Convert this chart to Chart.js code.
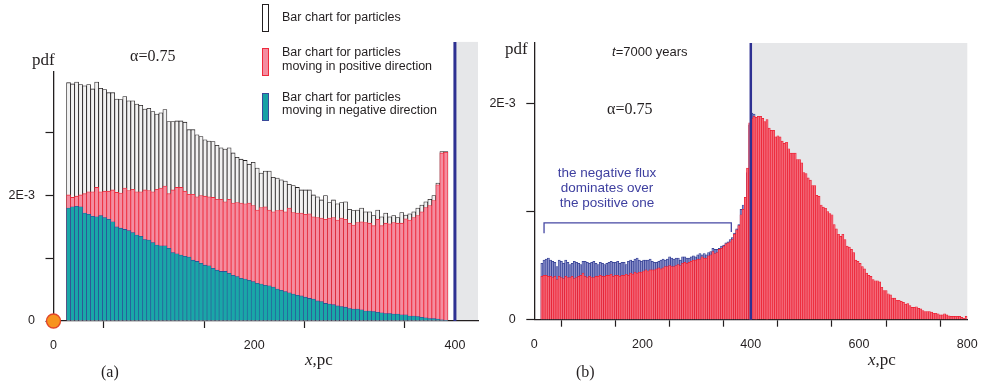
<!DOCTYPE html>
<html>
<head>
<meta charset="utf-8">
<title>pdf of particles, alpha = 0.75</title>
<script src="https://cdn.jsdelivr.net/npm/chart.js@4.4.1/dist/chart.umd.min.js"></script>
<style>
  html, body { margin: 0; padding: 0; background: #fff; }
  #page { position: relative; width: 981px; height: 389px; overflow: hidden; }
  canvas { position: absolute; top: 0; }
  .t { position: absolute; white-space: nowrap; line-height: 1; color: #231f20; }
  .serif { font-family: 'Liberation Serif', 'Times New Roman', serif; }
  .sans { font-family: 'Liberation Sans', Arial, sans-serif; }
  .key { position: absolute; left: 262px; width: 7px; height: 28px; box-sizing: border-box; border: 1.3px solid; }
</style>
</head>
<body>
<div id="page">
  <canvas id="chartA" width="490" height="389" style="left:0"></canvas>
  <canvas id="chartB" width="491" height="389" style="left:490px"></canvas>

  <!-- panel (a) texts -->
  <div class="t serif" style="left:32px;top:50.8px;font-size:17px">pdf</div>
  <div class="t serif" style="left:130px;top:48.3px;font-size:16px">&alpha;=0.75</div>
  <div class="key" style="top:4px;border-color:#231f20;background:#fff"></div>
  <div class="t sans" style="left:282px;top:11.4px;font-size:12.5px">Bar chart for particles</div>
  <div class="key" style="top:48px;border-color:#ee2a3c;background:#f48da0"></div>
  <div class="t sans" style="left:282px;top:46.3px;font-size:12.5px;line-height:13.4px">Bar chart for particles<br>moving in positive direction</div>
  <div class="key" style="top:93px;border-color:#3a4a9a;background:#17a2a6"></div>
  <div class="t sans" style="left:282px;top:90.7px;font-size:12.5px;line-height:13.4px">Bar chart for particles<br>moving in negative direction</div>
  <div class="t serif" style="left:305px;top:350.8px;font-size:17px"><i>x</i>,pc</div>
  <div class="t serif" style="left:101px;top:363.6px;font-size:16px">(a)</div>

  <!-- panel (b) texts -->
  <div class="t serif" style="left:505px;top:39.8px;font-size:17px">pdf</div>
  <div class="t sans" style="left:612px;top:45px;font-size:13px"><i>t</i>=7000 years</div>
  <div class="t serif" style="left:607px;top:100.6px;font-size:16px">&alpha;=0.75</div>
  <div class="t sans" style="left:507px;top:165.1px;width:200px;text-align:center;font-size:13.5px;line-height:15px;color:#3f40a0">the negative flux<br>dominates over<br>the positive one</div>
  <div class="t serif" style="left:868px;top:350.8px;font-size:17px"><i>x</i>,pc</div>
  <div class="t serif" style="left:576px;top:363.6px;font-size:16px">(b)</div>
</div>

<script>
// ---- panel (a): alpha = 0.75, source at x = 0, boundary at 400 pc ----
// bin centres, pc (4 pc bins)
const binsA = [15, 19, 23, 27, 31, 35, 39, 43, 47, 51, 55, 59, 63, 67, 71, 75, 79, 83, 87, 91,
  95, 99, 103, 107, 111, 115, 119, 123, 127, 131, 135, 139, 143, 147, 151, 155, 159, 163, 167, 171,
  175, 179, 183, 187, 191, 195, 199, 203, 207, 211, 215, 219, 223, 227, 231, 235, 239, 243, 247, 251,
  255, 259, 263, 267, 271, 275, 279, 283, 287, 291, 295, 299, 303, 307, 311, 315, 319, 323, 327, 331,
  335, 339, 343, 347, 351, 355, 359, 363, 367, 371, 375, 379, 383, 387, 391];
// pdf in units of 1E-3
const totalA = [3.80, 3.78, 3.81, 3.77, 3.75, 3.77, 3.70, 3.81, 3.71, 3.69,
  3.64, 3.64, 3.54, 3.53, 3.58, 3.51, 3.51, 3.46, 3.44, 3.38,
  3.39, 3.34, 3.30, 3.32, 3.37, 3.18, 3.18, 3.19, 3.19, 3.17,
  3.05, 3.05, 2.97, 2.94, 2.89, 2.87, 2.86, 2.80, 2.76, 2.74,
  2.76, 2.68, 2.61, 2.58, 2.56, 2.50, 2.53, 2.44, 2.36, 2.39,
  2.39, 2.29, 2.28, 2.25, 2.23, 2.18, 2.16, 2.13, 2.09, 2.09,
  2.09, 2.01, 1.98, 1.93, 2.00, 1.89, 1.93, 1.87, 1.89, 1.90,
  1.78, 1.76, 1.77, 1.80, 1.74, 1.74, 1.68, 1.77, 1.66, 1.72,
  1.66, 1.68, 1.65, 1.73, 1.69, 1.71, 1.74, 1.80, 1.85, 1.90,
  1.94, 2.00, 2.20, 2.70, 2.70];
const positiveA = [2.01, 1.97, 1.99, 2.01, 2.03, 2.06, 2.06, 2.13, 2.06, 2.07,
  2.07, 2.09, 2.05, 2.04, 2.12, 2.08, 2.10, 2.06, 2.06, 2.09,
  2.08, 2.06, 2.10, 2.12, 2.15, 2.03, 2.09, 2.13, 2.13, 2.07,
  2.02, 2.02, 1.98, 2.00, 1.99, 1.98, 1.97, 1.94, 1.94, 1.90,
  1.94, 1.88, 1.89, 1.88, 1.87, 1.88, 1.84, 1.77, 1.81, 1.82,
  1.77, 1.74, 1.76, 1.77, 1.74, 1.80, 1.73, 1.72, 1.72, 1.70,
  1.71, 1.66, 1.65, 1.64, 1.62, 1.64, 1.65, 1.61, 1.64, 1.62,
  1.56, 1.53, 1.57, 1.58, 1.57, 1.56, 1.52, 1.62, 1.52, 1.56,
  1.55, 1.57, 1.56, 1.56, 1.63, 1.61, 1.65, 1.68, 1.74, 1.81,
  1.84, 1.92, 2.17, 2.68, 2.69];
const negativeA = [1.80, 1.82, 1.83, 1.82, 1.72, 1.70, 1.67, 1.66, 1.68, 1.65,
  1.62, 1.58, 1.50, 1.48, 1.46, 1.44, 1.41, 1.37, 1.35, 1.30,
  1.29, 1.25, 1.21, 1.20, 1.20, 1.16, 1.09, 1.07, 1.05, 1.03,
  1.02, 0.97, 0.95, 0.92, 0.89, 0.88, 0.84, 0.81, 0.79, 0.79,
  0.76, 0.73, 0.71, 0.68, 0.67, 0.65, 0.63, 0.60, 0.59, 0.57,
  0.56, 0.54, 0.51, 0.49, 0.47, 0.45, 0.43, 0.41, 0.40, 0.38,
  0.36, 0.35, 0.32, 0.31, 0.28, 0.27, 0.26, 0.24, 0.23, 0.22,
  0.20, 0.19, 0.19, 0.18, 0.16, 0.16, 0.15, 0.14, 0.13, 0.12,
  0.12, 0.11, 0.11, 0.10, 0.10, 0.08, 0.08, 0.07, 0.06, 0.05,
  0.04, 0.04, 0.03, 0.02, 0.01];
const sourceA = [{ x: 0, y: 0 }];
const xTicksA = [0, 100, 200, 300, 400];
const xLabelsA = ['0', '', '200', '', '400'];
const yTicksA = [0, 1, 2, 3];
const yLabelsA = ['0', '', '2E-3', ''];

// ---- panel (b): t = 7000 years ----
const binsB = [14, 18, 22, 26, 30, 34, 38, 42, 46, 50,
  54, 58, 62, 66, 70, 74, 78, 82, 86, 90,
  94, 98, 102, 106, 110, 114, 118, 122, 126, 130,
  134, 138, 142, 146, 150, 154, 158, 162, 166, 170,
  174, 178, 182, 186, 190, 194, 198, 202, 206, 210,
  214, 218, 222, 226, 230, 234, 238, 242, 246, 250,
  254, 258, 262, 266, 270, 274, 278, 282, 286, 290,
  294, 298, 302, 306, 310, 314, 318, 322, 326, 330,
  334, 338, 342, 346, 350, 354, 358, 362, 366, 370,
  374, 378, 382, 386, 390, 394, 398, 402, 406, 410,
  414, 418, 422, 426, 430, 434, 438, 442, 446, 450,
  454, 458, 462, 466, 470, 474, 478, 482, 486, 490,
  494, 498, 502, 506, 510, 514, 518, 522, 526, 530,
  534, 538, 542, 546, 550, 554, 558, 562, 566, 570,
  574, 578, 582, 586, 590, 594, 598, 602, 606, 610,
  614, 618, 622, 626, 630, 634, 638, 642, 646, 650,
  654, 658, 662, 666, 670, 674, 678, 682, 686, 690,
  694, 698, 702, 706, 710, 714, 718, 722, 726, 730,
  734, 738, 742, 746, 750, 754, 758, 762, 766, 770,
  774, 778, 782, 786, 790, 794, 798];
const positiveB = [0.40, 0.41, 0.41, 0.40, 0.40, 0.39, 0.40, 0.37, 0.40, 0.39,
  0.38, 0.40, 0.39, 0.39, 0.40, 0.38, 0.39, 0.40, 0.41, 0.43,
  0.40, 0.39, 0.40, 0.39, 0.39, 0.40, 0.40, 0.41, 0.40, 0.40,
  0.41, 0.41, 0.42, 0.40, 0.41, 0.41, 0.40, 0.41, 0.41, 0.42,
  0.41, 0.43, 0.42, 0.44, 0.43, 0.44, 0.44, 0.45, 0.46, 0.45,
  0.46, 0.46, 0.46, 0.47, 0.48, 0.47, 0.48, 0.49, 0.49, 0.50,
  0.49, 0.49, 0.50, 0.51, 0.50, 0.52, 0.53, 0.52, 0.53, 0.54,
  0.55, 0.55, 0.56, 0.56, 0.58, 0.57, 0.57, 0.59, 0.60, 0.63,
  0.61, 0.62, 0.65, 0.66, 0.68, 0.70, 0.71, 0.72, 0.74, 0.79,
  0.83, 0.87, 0.97, 1.02, 1.13, 1.40, 1.82, 1.86, 1.88, 1.87,
  1.88, 1.88, 1.86, 1.83, 1.85, 1.77, 1.75, 1.75, 1.69, 1.70,
  1.69, 1.65, 1.63, 1.64, 1.58, 1.54, 1.54, 1.54, 1.48, 1.48,
  1.45, 1.36, 1.35, 1.31, 1.29, 1.24, 1.24, 1.15, 1.14, 1.06,
  1.04, 1.03, 1.00, 0.98, 0.97, 0.88, 0.84, 0.79, 0.77, 0.79,
  0.74, 0.68, 0.67, 0.65, 0.62, 0.55, 0.54, 0.52, 0.49, 0.47,
  0.43, 0.41, 0.40, 0.37, 0.36, 0.36, 0.35, 0.30, 0.27, 0.27,
  0.24, 0.23, 0.20, 0.20, 0.18, 0.18, 0.17, 0.16, 0.145, 0.15,
  0.13, 0.115, 0.115, 0.12, 0.105, 0.10, 0.085, 0.075, 0.075, 0.075,
  0.07, 0.06, 0.06, 0.055, 0.045, 0.045, 0.055, 0.045, 0.035, 0.03,
  0.03, 0.03, 0.03, 0.03, 0.022, 0.013, 0.03];
// negative flux; beyond ~410 pc it stays under the positive bars
const negativeB = [0.52, 0.55, 0.56, 0.57, 0.55, 0.54, 0.53, 0.49, 0.55, 0.54,
  0.52, 0.55, 0.53, 0.51, 0.52, 0.54, 0.53, 0.52, 0.51, 0.54,
  0.54, 0.53, 0.52, 0.53, 0.54, 0.52, 0.51, 0.53, 0.52, 0.51,
  0.52, 0.53, 0.54, 0.53, 0.53, 0.54, 0.52, 0.53, 0.53, 0.51,
  0.54, 0.55, 0.54, 0.56, 0.57, 0.55, 0.54, 0.55, 0.55, 0.55,
  0.56, 0.54, 0.53, 0.53, 0.54, 0.55, 0.56, 0.55, 0.56, 0.58,
  0.57, 0.56, 0.57, 0.57, 0.55, 0.58, 0.58, 0.57, 0.57, 0.58,
  0.59, 0.58, 0.60, 0.61, 0.60, 0.61, 0.60, 0.62, 0.63, 0.66,
  0.65, 0.65, 0.66, 0.68, 0.69, 0.71, 0.72, 0.74, 0.76, 0.80,
  0.84, 0.88, 1.02, 1.06, 1.12, 1.36, 1.80, 1.91, 1.90];
const xTicksB = [0, 100, 200, 300, 400, 500, 600, 700, 800];
const xLabelsB = ['0', '', '200', '', '400', '', '600', '', '800'];
const yTicksB = [0, 1, 2];
const yLabelsB = ['0', '', '2E-3'];

const ink = '#231f20';
const tickFont = { family: "'Liberation Sans', Arial, sans-serif", size: 12.5 };

const toPoints = (xs, ys) => ys.map((y, i) => ({ x: xs[i], y: y }));

// shaded region past the boundary, boundary line, optional bracket
const decor = {
    id: 'decor',
    beforeDraw(chart, args, o) {
        const { ctx, chartArea, scales: { x, y } } = chart;
        const left = x.getPixelForValue(o.boundary);
        const top = y.getPixelForValue(o.top);
        const bottom = y.getPixelForValue(0);
        ctx.save();
        ctx.fillStyle = '#e6e7e9';
        ctx.fillRect(left, top, chartArea.right - left, bottom - top);
        ctx.restore();
    },
    afterDatasetsDraw(chart, args, o) {
        const { ctx, scales: { x, y } } = chart;
        const bx = x.getPixelForValue(o.boundary);
        ctx.save();
        ctx.strokeStyle = '#2e3192';
        ctx.lineWidth = o.lineWidth;
        ctx.beginPath();
        ctx.moveTo(bx, y.getPixelForValue(o.top));
        ctx.lineTo(bx, y.getPixelForValue(0));
        ctx.stroke();
        if (o.bracket) {
            const b = o.bracket;
            ctx.strokeStyle = '#4547a3';
            ctx.lineWidth = 1.3;
            ctx.beginPath();
            ctx.moveTo(x.getPixelForValue(b.from), y.getPixelForValue(b.tipLeft));
            ctx.lineTo(x.getPixelForValue(b.from), y.getPixelForValue(b.level));
            ctx.lineTo(x.getPixelForValue(b.to), y.getPixelForValue(b.level));
            ctx.lineTo(x.getPixelForValue(b.to), y.getPixelForValue(b.tipRight));
            ctx.stroke();
        }
        ctx.restore();
    }
};

function axes(cfg) {
    return {
        x: {
            type: 'linear', min: 0, max: cfg.xMax, offset: false,
            afterBuildTicks: (s) => { s.ticks = cfg.xTicks.map(v => ({ value: v })); },
            // fixed height, and no extra room for the end labels
            afterFit: (s) => { s.height = 40; s.paddingLeft = 0; s.paddingRight = 0; },
            ticks: { callback: (v, i) => cfg.xLabels[i], font: tickFont, color: ink, padding: 10.5, maxRotation: 0, autoSkip: false },
            grid: { drawOnChartArea: false, tickLength: 7, tickColor: ink, tickWidth: 1.2 },
            border: { color: ink, width: 1.3 }
        },
        y: {
            min: 0, max: cfg.yMax,
            afterBuildTicks: (s) => { s.ticks = cfg.yTicks.map(v => ({ value: v })); },
            afterFit: (s) => { s.width = cfg.yWidth; s.paddingTop = 0; s.paddingBottom = 0; },
            ticks: { callback: (v, i) => cfg.yLabels[i], font: tickFont, color: ink, padding: 10.5, autoSkip: false },
            grid: { drawOnChartArea: false, tickLength: 8, tickColor: ink, tickWidth: 1.2 },
            border: { color: ink, width: 1.3 }
        }
    };
}

const barStyle = { grouped: false, barPercentage: 1, categoryPercentage: 1 };

new Chart(document.getElementById('chartA'), {
    type: 'bar',
    data: {
        datasets: [
            { type: 'scatter', data: sourceA, order: 0, clip: false, pointRadius: 7,
              backgroundColor: '#f7931e', borderColor: '#e2452a', borderWidth: 1.3 },
            { ...barStyle, data: toPoints(binsA, negativeA), order: 1,
              backgroundColor: '#19a7a8', borderColor: '#2e3d95', borderWidth: 0.55 },
            { ...barStyle, data: toPoints(binsA, positiveA), order: 2,
              backgroundColor: '#f48da0', borderColor: '#ee2a3c', borderWidth: 0.8 },
            { ...barStyle, data: toPoints(binsA, totalA), order: 3,
              backgroundColor: '#f2f2f2', borderColor: ink, borderWidth: 0.8 }
        ]
    },
    options: {
        responsive: false, animation: false, events: [], devicePixelRatio: 1,
        layout: { padding: { left: 0, right: 12, top: 72, bottom: 28 } },
        scales: axes({ xMax: 423, yMax: 3.97, xTicks: xTicksA, xLabels: xLabelsA,
                       yTicks: yTicksA, yLabels: yLabelsA, yWidth: 53.5 }),
        plugins: {
            legend: { display: false }, tooltip: { enabled: false },
            decor: { boundary: 400, top: 4.45, lineWidth: 3 }
        }
    },
    plugins: [decor]
});

new Chart(document.getElementById('chartB'), {
    type: 'bar',
    data: {
        datasets: [
            { ...barStyle, data: toPoints(binsB, positiveB), order: 1,
              backgroundColor: '#f36b7b', borderColor: '#ed1c2e', borderWidth: 0.7 },
            { ...barStyle, data: toPoints(binsB, negativeB), order: 2,
              backgroundColor: '#8c92cc', borderColor: '#2d3990', borderWidth: 0.7 }
        ]
    },
    options: {
        responsive: false, animation: false, events: [], devicePixelRatio: 1,
        layout: { padding: { left: 0, right: 13.7, top: 43, bottom: 29.3 } },
        scales: axes({ xMax: 800, yMax: 2.557, xTicks: xTicksB, xLabels: xLabelsB,
                       yTicks: yTicksB, yLabels: yLabelsB, yWidth: 44.3 }),
        plugins: {
            legend: { display: false }, tooltip: { enabled: false },
            decor: { boundary: 400, top: 2.557, lineWidth: 2.5,
                     bracket: { from: 18, to: 364, level: 0.894, tipLeft: 0.80, tipRight: 0.81 } }
        }
    },
    plugins: [decor]
});
</script>
</body>
</html>
